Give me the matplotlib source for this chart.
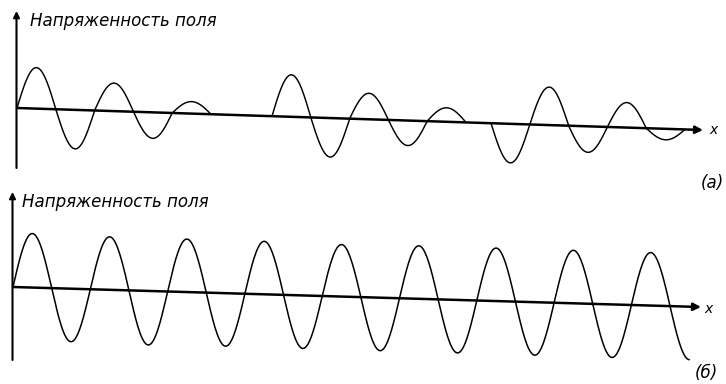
import numpy as np
import matplotlib
matplotlib.use("Agg")
import matplotlib.pyplot as plt
from matplotlib.transforms import Affine2D

W, H = 726, 384

# ---- data (arbitrary units) ----
ylabel_text = "Напряженность поля"
xlabel_text = "x"
panel_tags = ["(а)", "(б)"]

# (a) three wave packets, amplitudes per half-cycle
top_half_period = 38.8
top_packet_starts = [0, 255, 474]
top_packet_amps = [
    [41, -39, 28, -26, 12],
    [42, -39, 26, -25, 14],
    [-39, 38, -26, 25, -11],
]
top_axis_len = 686
top_yaxis = (-60, 97)

# (б) continuous wave
bottom_half_period = 38.65
bottom_start = 0
bottom_amps = [54, -53, 53, -54, 53, -53, 53, -53, 52, -53,
               53, -53, 53, -53, 53, -53, 53, -53]
bottom_n_half = 17.5
bottom_axis_len = 688
bottom_yaxis = (-73, 95)


def wave(start, hp, amps, n_half=None):
    n = len(amps) if n_half is None else n_half
    x = np.linspace(start, start + n * hp, int(n * 80) + 1)
    t = (x - start) / hp
    k = np.clip(np.floor(t).astype(int), 0, len(amps) - 1)
    a = np.asarray(amps, float)[k]
    y = a * np.abs(np.sin(np.pi * t))
    return x, y


fig = plt.figure(figsize=(W / 100, H / 100), dpi=100)
fig.patch.set_facecolor("white")


def make_panel(ox, oy_img, slope):
    oy = H - oy_img
    ax = fig.add_axes([ox / W, (oy - 110) / H, 720 / W, 220 / H])
    ax.set_xlim(0, 720)
    ax.set_ylim(-110, 110)
    ax.axis("off")
    tilt = (Affine2D().translate(-ox, -oy)
            .skew(0, -np.arctan(slope)).translate(ox, oy))
    return ax, ax.transData + tilt


def draw_axes(ax, tr, axis_len, yax):
    ax.annotate("", xy=(axis_len, 0), xytext=(0, 0), xycoords=tr,
                textcoords=tr, annotation_clip=False,
                arrowprops=dict(arrowstyle="-|>", lw=1.8, color="black",
                                mutation_scale=11, shrinkA=0, shrinkB=0))
    ax.annotate("", xy=(-0.5, yax[1]), xytext=(-0.5, yax[0]), xycoords=tr,
                textcoords=tr, annotation_clip=False,
                arrowprops=dict(arrowstyle="-|>", lw=1.5, color="black",
                                mutation_scale=9, shrinkA=0, shrinkB=0))


# panel (a)
ax1, tr1 = make_panel(17, 108, 0.0321)
draw_axes(ax1, tr1, top_axis_len, top_yaxis)
for s, amps in zip(top_packet_starts, top_packet_amps):
    x, y = wave(s, top_half_period, amps)
    ax1.plot(x, y, color="black", lw=1.05, transform=tr1, clip_on=False,
             solid_capstyle="round")

# panel (б)
ax2, tr2 = make_panel(13, 287, 0.0291)
draw_axes(ax2, tr2, bottom_axis_len, bottom_yaxis)
x, y = wave(bottom_start, bottom_half_period, bottom_amps, bottom_n_half)
ax2.plot(x, y, color="black", lw=1.1, transform=tr2, clip_on=False,
         solid_capstyle="round")

# texts
lab_kw = dict(fontstyle="italic", fontsize=12, color="black",
              family=["DejaVu Sans"])
fig.text(30 / W, 1 - 26 / H, ylabel_text, va="baseline", ha="left", **lab_kw)
fig.text(22 / W, 1 - 207 / H, ylabel_text, va="baseline", ha="left", **lab_kw)
fig.text(713 / W, 1 - 130 / H, xlabel_text, va="center", ha="center",
         fontstyle="italic", fontsize=10)
fig.text(708 / W, 1 - 309 / H, xlabel_text, va="center", ha="center",
         fontstyle="italic", fontsize=10)
fig.text(712 / W, 1 - 183 / H, panel_tags[0], va="center", ha="center",
         fontstyle="italic", fontsize=12)
fig.text(706 / W, 1 - 373 / H, panel_tags[1], va="center", ha="center",
         fontstyle="italic", fontsize=12)

fig.savefig("out.png", dpi=100, facecolor="white")
